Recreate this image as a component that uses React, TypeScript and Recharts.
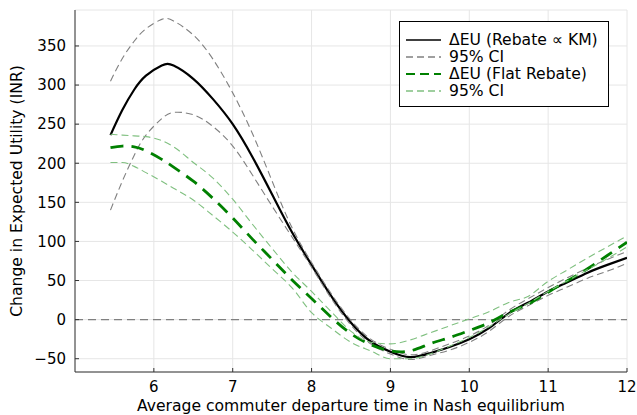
import React from 'react';
import { LineChart, Line, XAxis, YAxis, CartesianGrid, ReferenceLine, Label } from 'recharts';

// departure time grid (hours)
const X = [5.45, 5.6, 5.75, 5.9, 6.1, 6.25, 6.5, 6.75, 7, 7.25, 7.5, 7.75, 8, 8.25, 8.5, 8.75, 9, 9.25, 9.5, 9.75, 10, 10.25, 10.5, 10.75, 11, 11.25, 11.5, 11.75, 12];

// ΔEU, rebate proportional to KM, with 95% CI
const KM = [236, 268, 294, 312, 325, 325, 308, 282, 250, 208, 160, 112, 70, 30, -4, -28, -41, -48, -43, -35, -25, -11, 8, 22, 36, 48, 60, 70, 79];
const KM_HI = [305, 334, 356, 372, 384, 382, 364, 333, 290, 238, 177, 118, 73, 33, -1, -25, -38, -45, -40, -31, -21, -7, 12, 27, 41, 54, 66, 77, 87];
const KM_LO = [140, 177, 210, 236, 257, 265, 262, 247, 222, 185, 145, 106, 67, 27, -7, -31, -44, -51, -46, -39, -29, -15, 4, 18, 31, 42, 53, 62, 72];

// ΔEU, flat rebate, with 95% CI
const FLAT = [220, 222, 221, 216, 205, 195, 177, 155, 130, 103, 77, 51, 27, 3, -18, -32, -40, -40, -31, -23, -14, -4, 9, 20, 35, 50, 65, 82, 99];
const FLAT_HI = [237, 236, 235, 234, 229, 221, 201, 181, 154, 122, 91, 61, 36, 10, -15, -29, -31, -26, -17, -8, 1, 10, 22, 30, 49, 64, 79, 93, 107];
const FLAT_LO = [201, 201, 196, 188, 177, 168, 153, 133, 112, 89, 65, 41, 9, -11, -29, -40, -50, -50, -44, -34, -23, -9, 7, 21, 36, 50, 64, 78, 93];

const X_TICKS = [6, 7, 8, 9, 10, 11, 12];
const Y_TICKS = [-50, 0, 50, 100, 150, 200, 250, 300, 350];

const LEGEND = [
    { label: 'ΔEU (Rebate ∝ KM)', color: '#000000', width: 1.5, dash: undefined },
    { label: '95% CI', color: '#808080', width: 1.5, dash: '7 4' },
    { label: 'ΔEU (Flat Rebate)', color: '#008000', width: 2, dash: '9 5' },
    { label: '95% CI', color: '#80c080', width: 1.5, dash: '7 4' },
];

const FONT = 'DejaVu Sans';

const data = X.map((x, i) => ({
    x,
    km: KM[i],
    kmHi: KM_HI[i],
    kmLo: KM_LO[i],
    flat: FLAT[i],
    flatHi: FLAT_HI[i],
    flatLo: FLAT_LO[i],
}));

const fmt = (v: number) => String(v).replace('-', '\u2212');

export default function App() {
    const tick = { fill: '#000', fontSize: 15, fontFamily: FONT };
    return (
        <div style={{ position: 'absolute', left: 0, top: 0, width: 637, height: 415, background: '#fff' }}>
            <LineChart width={637} height={415} data={data} margin={{ top: 10, right: 10, bottom: 0, left: 0 }} style={{ fontFamily: FONT }}>
                <CartesianGrid stroke="#e6e6e6" strokeWidth={1} />
                <XAxis
                    dataKey="x"
                    type="number"
                    domain={[5, 12]}
                    ticks={X_TICKS}
                    interval={0}
                    allowDataOverflow
                    height={43}
                    stroke="#333"
                    tickSize={-4}
                    tickMargin={13}
                    tick={tick}
                >
                    <Label
                        content={() => (
                            <text x={351} y={411} textAnchor="middle" fontSize={15.6} fontFamily={FONT} fill="#000">
                                Average commuter departure time in Nash equilibrium
                            </text>
                        )}
                    />
                </XAxis>
                <YAxis
                    type="number"
                    domain={[-67, 396]}
                    ticks={Y_TICKS}
                    interval={0}
                    allowDataOverflow
                    width={75}
                    stroke="#333"
                    tickSize={-4}
                    tickMargin={13}
                    tick={tick}
                    tickFormatter={fmt}
                >
                    <Label
                        content={() => (
                            <text x={22} y={191} transform="rotate(-90 22 191)" textAnchor="middle" fontSize={15.6} fontFamily={FONT} fill="#000">
                                Change in Expected Utility (INR)
                            </text>
                        )}
                    />
                </YAxis>
                <ReferenceLine y={0} stroke="#808080" strokeWidth={1.2} strokeDasharray="8 5" />
                <Line dataKey="km" type="natural" stroke="#000" strokeWidth={2.2} dot={false} isAnimationActive={false} />
                <Line dataKey="kmHi" type="natural" stroke="#808080" strokeWidth={1.1} strokeDasharray="7 4" dot={false} isAnimationActive={false} />
                <Line dataKey="kmLo" type="natural" stroke="#808080" strokeWidth={1.1} strokeDasharray="7 4" dot={false} isAnimationActive={false} />
                <Line dataKey="flat" type="natural" stroke="#008000" strokeWidth={2.8} strokeDasharray="13 8" dot={false} isAnimationActive={false} />
                <Line dataKey="flatHi" type="monotone" stroke="#80c080" strokeWidth={1.1} strokeDasharray="7 4" dot={false} isAnimationActive={false} />
                <Line dataKey="flatLo" type="monotone" stroke="#80c080" strokeWidth={1.1} strokeDasharray="7 4" dot={false} isAnimationActive={false} />
            </LineChart>
            <div
                style={{
                    position: 'absolute',
                    left: 399,
                    top: 21,
                    width: 210,
                    height: 86,
                    border: '1px solid #000',
                    background: '#fff',
                    boxSizing: 'border-box',
                    fontFamily: FONT,
                    fontSize: 15.6,
                }}
            >
                {LEGEND.map((item, i) => (
                    <div key={i} style={{ position: 'absolute', left: 0, top: 17.5 + 17 * i - 10, height: 20, width: '100%' }}>
                        <svg width={40} height={20} style={{ position: 'absolute', left: 6, top: 0 }}>
                            <line x1={0} y1={10} x2={35} y2={10} stroke={item.color} strokeWidth={item.width} strokeDasharray={item.dash} />
                        </svg>
                        <span style={{ position: 'absolute', left: 49, top: 0, lineHeight: '20px', whiteSpace: 'nowrap', color: '#000' }}>{item.label}</span>
                    </div>
                ))}
            </div>
        </div>
    );
}
